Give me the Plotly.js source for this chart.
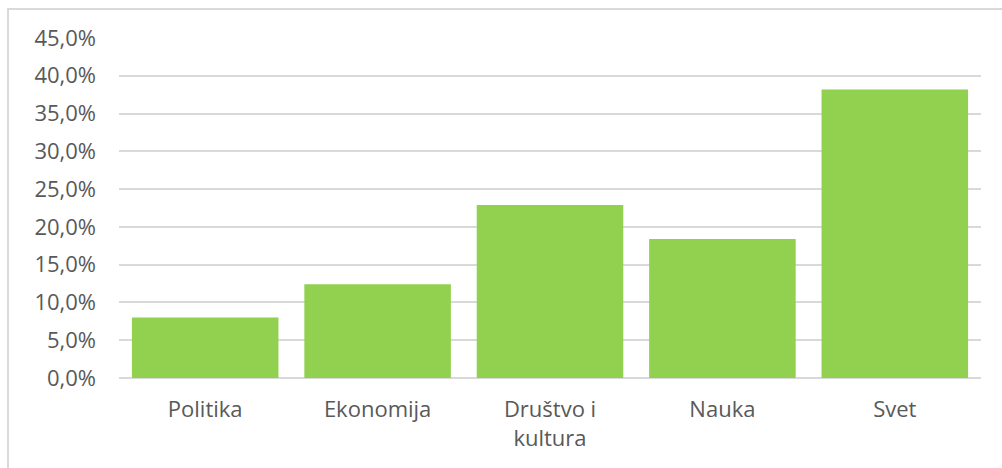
<!DOCTYPE html>
<html>
<head>
<meta charset="utf-8">
<script src="https://cdn.plot.ly/plotly-3.0.1.min.js"></script>
<style>
html,body{margin:0;padding:0;background:#fff;}
#wrap{position:relative;width:1002px;height:468px;overflow:hidden;}
#chart{width:1002px;height:468px;}
#frame{position:absolute;left:7px;top:8px;width:1010px;height:480px;border-left:2px solid #d9d9d9;border-top:2px solid #d9d9d9;pointer-events:none;}
</style>
</head>
<body>
<div id="wrap"><div id="chart"></div><div id="frame"></div></div>
<script>
const categories = ["Politika", "Ekonomija", "Društvo i<br>kultura", "Nauka", "Svet"];
const values = [8.0, 12.4, 22.9, 18.4, 38.2];
const yTickValues = [0, 5, 10, 15, 20, 25, 30, 35, 40, 45];
const yTickLabels = ["0,0%", "5,0%", "10,0%", "15,0%", "20,0%", "25,0%", "30,0%", "35,0%", "40,0%", "45,0%"];

const font = {family: "'Open Sans', sans-serif", size: 22, color: "#595959"};

Plotly.newPlot("chart", [{
  type: "bar",
  x: categories,
  y: values,
  marker: {color: "#92d050"},
  hoverinfo: "none"
}], {
  width: 1002, height: 468,
  margin: {l: 119, r: 21, t: 38, b: 90},
  paper_bgcolor: "#fff", plot_bgcolor: "#fff",
  bargap: 0.15,
  font: font,
  showlegend: false,
  xaxis: {
    showgrid: false, showline: false, zeroline: false,
    ticks: "", ticklabelstandoff: 16,
    tickfont: font
  },
  yaxis: {
    range: [0, 45], tickmode: "array", tickvals: yTickValues, ticktext: yTickLabels,
    showgrid: true, gridcolor: "#d9d9d9", gridwidth: 2,
    zeroline: true, zerolinecolor: "#d9d9d9", zerolinewidth: 2,
    showline: false, ticks: "", ticklabelstandoff: 22,
    tickfont: font
  }
}, {staticPlot: true});
</script>
</body>
</html>
